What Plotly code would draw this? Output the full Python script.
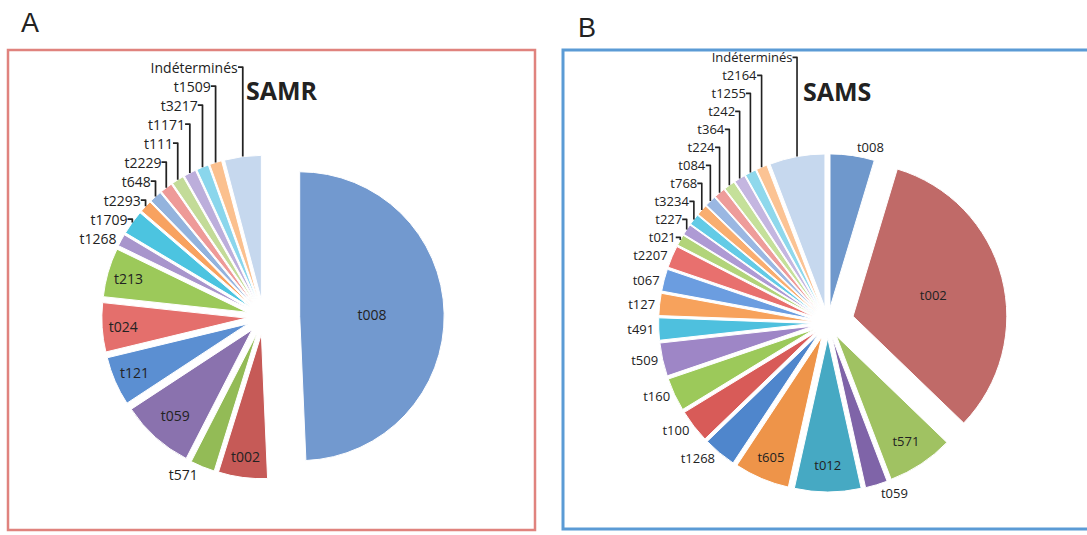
import plotly.graph_objects as go

W, H = 1087, 535

# ---- Data: SAMR (panel A), clockwise from 12 o'clock ----
samr_labels = ["t008", "t002", "t571", "t059", "t121", "t024", "t213", "t1268",
               "t1709", "t2293", "t648", "t2229", "t111", "t1171", "t3217",
               "t1509", "Indéterminés"]
samr_values = [36, 4, 2, 6, 4, 4, 4, 1, 2, 1, 1, 1, 1, 1, 1, 1, 3]

# ---- Data: SAMS (panel B), clockwise from 12 o'clock ----
sams_labels = ["t008", "t002", "t571", "t059", "t012", "t605", "t1268", "t100",
               "t160", "t509", "t491", "t127", "t067", "t2207", "t021", "t227",
               "t3234", "t768", "t084", "t224", "t364", "t242", "t1255", "t2164",
               "Indéterminés"]
sams_values = [4, 28, 6, 2, 6, 5, 3, 3, 3, 3, 2, 2, 2, 2, 1, 1, 1, 1, 1, 1, 1,
               1, 1, 1, 5]

# ---- Styles ----
samr_colors = ["#7299cf", "#c65a57", "#93bb56", "#8a72ae", "#5b8fd2", "#e46f6c",
               "#9cc95a", "#a895cc", "#4cc4e0", "#f8a260", "#93b3dd", "#ee9a98",
               "#c3db98", "#bcaedb", "#8ad6ec", "#fbc08e", "#c6d8ee"]
samr_pull = [0.25] + [0.12] * 16
samr_inside = {"t008", "t002", "t059", "t121", "t024", "t213"}

sams_colors = ["#6f98cc", "#c06a68", "#a0c262", "#7f64a8", "#46a9c3", "#ee9449",
               "#4f86cc", "#d85b58", "#9cc95a", "#9e86c6", "#4ec0de", "#f7a25c",
               "#6b9de0", "#e8706e", "#b2d47a", "#ae9ad4", "#63cbe6", "#f9ae70",
               "#9ab7e2", "#ee9c9a", "#c5e09a", "#c4b6e0", "#8fd8ec", "#fbc394",
               "#c6d8ee"]
sams_pull = [0.1, 0.17] + [0.1] * 23
sams_inside = {"t002", "t571", "t012", "t605"}

font_a = dict(family="Open Sans", size=14, color="#222222")
font_b = dict(family="Open Sans", size=13, color="#222222")

dom_a = dict(x=[0.075, 0.410], y=[0.070, 0.745])
dom_b = dict(x=[0.596, 0.927], y=[0.060, 0.733])

fig = go.Figure()


def add_pie(labels, values, colors, pull, dom, fnt, inside):
    fig.add_trace(go.Pie(
        labels=labels, values=values, sort=False, direction="clockwise",
        rotation=0, pull=pull, textinfo="label",
        textposition=["inside" if l in inside else "outside" for l in labels],
        insidetextorientation="horizontal",
        marker=dict(colors=colors, line=dict(color="white", width=1)),
        textfont=fnt, insidetextfont=fnt, outsidetextfont=fnt,
        domain=dom, showlegend=False, automargin=False,
    ))


add_pie(samr_labels, samr_values, samr_colors, samr_pull, dom_a, font_a,
        samr_inside)
add_pie(sams_labels, sams_values, sams_colors, sams_pull, dom_b, font_b,
        sams_inside)


def px(x):
    return x / W


def py(y):
    return 1 - y / H


shapes = [
    dict(type="rect", xref="paper", yref="paper", x0=px(8), x1=px(535),
         y0=py(530), y1=py(50), line=dict(color="#e0837e", width=2.5)),
    dict(type="rect", xref="paper", yref="paper", x0=px(563), x1=px(1100),
         y0=py(529), y1=py(50), line=dict(color="#5b9bd5", width=3)),
]


def ann(text, x, y, size, family):
    return dict(text=text, x=px(x), y=py(y), xref="paper", yref="paper",
                xanchor="center", yanchor="middle", showarrow=False,
                font=dict(family=family, size=size, color="#222"))


annotations = [
    ann("A", 30, 23, 27, "Liberation Sans"),
    ann("B", 587, 28, 27, "Liberation Sans"),
    ann("<b>SAMR</b>", 282, 90, 25, "Open Sans"),
    ann("<b>SAMS</b>", 837, 91, 25, "Open Sans"),
]

fig.update_layout(
    width=W, height=H, margin=dict(l=0, r=0, t=0, b=0),
    paper_bgcolor="white", plot_bgcolor="white",
    shapes=shapes, annotations=annotations,
)

fig.write_html("out.html", config={"displayModeBar": False},
               post_script="document.body.style.margin='0px';")
